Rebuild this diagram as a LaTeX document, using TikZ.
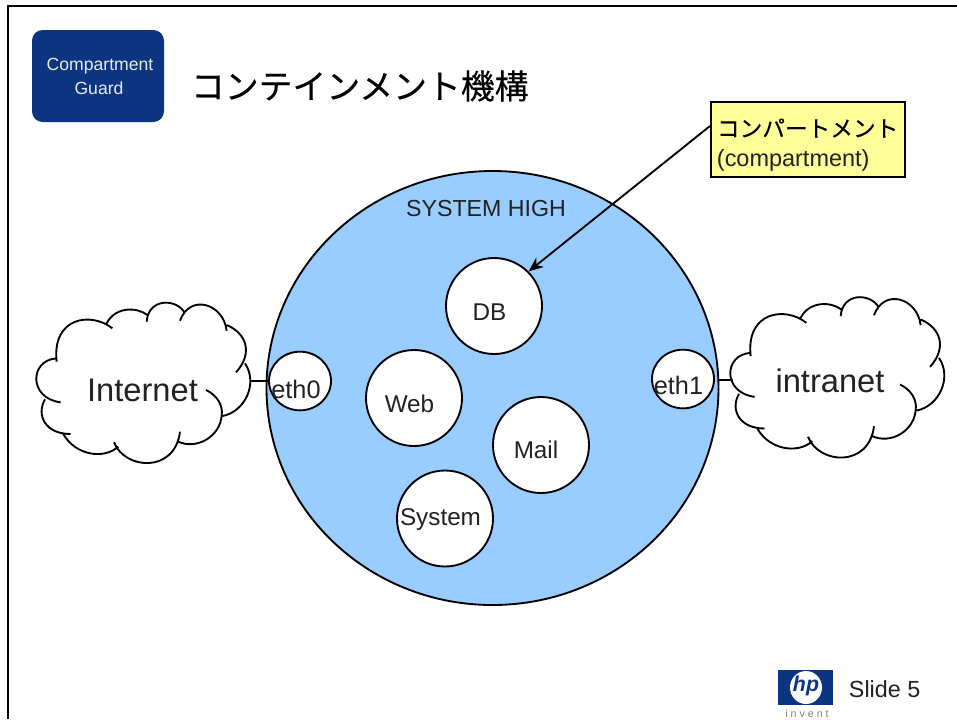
\documentclass[tikz,border=0pt]{standalone}
\usepackage{fontspec}
\setmainfont{Liberation Sans}
\newfontfamily\cjk[FakeBold=0.25]{Noto Sans CJK JP}
\definecolor{navy}{HTML}{0B3580}
\definecolor{sky}{HTML}{99CCFF}
\definecolor{note}{HTML}{FFFF99}
\definecolor{ink}{HTML}{222222}
\newcommand{\px}[1]{\fontsize{#1}{#1}\selectfont}
\newcommand{\cloudshape}{%
 \fill[white] plot[smooth cycle,tension=0.7] coordinates {(108,330)(170,240)(265,150)(385,120)(500,100)(610,100)(742,240)(750,340)(665,440)(590,525)(437,582)(290,552)(120,430)};
 \draw[line width=1.4pt]
  (170,265) .. controls (88,270) and (85,385) .. (182,397)
  (135,388) .. controls (108,435) and (135,492) .. (212,492)
  (190,492) .. controls (225,555) and (310,570) .. (355,530)
  (342,517) .. controls (375,600) and (525,610) .. (540,485)
  (535,515) .. controls (590,540) and (660,500) .. (665,437)
  (618,360) .. controls (650,375) and (670,405) .. (665,437)
  (668,438) .. controls (735,425) and (775,340) .. (735,280)
  (708,307) .. controls (760,250) and (740,190) .. (680,165)
  (680,182) .. controls (670,100) and (570,70) .. (540,152)
  (552,125) .. controls (525,85) and (445,85) .. (440,155)
  (442,135) .. controls (410,110) and (345,110) .. (320,160)
  (337,175) .. controls (275,125) and (155,140) .. (170,275);
}
\usetikzlibrary{shapes.geometric,arrows.meta}
\tikzset{
 x=0.75pt,y=-0.75pt,
 compart/.style={draw=black,fill=white,ellipse,inner sep=0pt},
 port/.style={compart,minimum width=46.5pt,minimum height=44pt},
 room/.style={compart,minimum width=72pt,minimum height=72pt},
 lab/.style={inner sep=0pt,font=\px{18.2},text=ink},
 cloudtext/.style={font=\px{24.5},inner sep=0pt,text=ink},
}
\begin{document}
\begin{tikzpicture}[line width=1.4pt]
\useasboundingbox (0,0) rectangle (957,719);
\fill[white] (0,0) rectangle (957,719);
\coordinate (frameA) at (8,719);
\coordinate (frameB) at (8,6);
\coordinate (frameC) at (957,6);
\draw (frameA) -- (frameB) -- (frameC);
\node (badge) [fill=navy,rounded corners=8pt,minimum width=99pt,minimum height=69pt,inner sep=0pt] at (98,76) {};
\node (badgeA) [inner sep=0pt,text=white!90!navy,font=\px{13.2}] at (100,66) {Compartment};
\node (badgeB) [inner sep=0pt,text=white!90!navy,font=\px{13.2}] at (99,88) {Guard};
\node (title) [inner sep=0pt,font=\cjk\px{25.4},anchor=west] at (190,86) {コンテインメント機構};
% big circle
\node (high) [ellipse,draw=black,fill=sky,inner sep=0pt,minimum width=339pt,minimum height=325.5pt] at (492.5,388) {};
\node (highlabel) [lab,font=\px{17.4}] at (486,209) {SYSTEM HIGH};
\node (db) [room] at (494,306) {};
\node (dblabel) [lab] at (489.5,312) {DB};
\node (web) [room] at (414,398) {};
\node (weblabel) [lab] at (409.5,404) {Web};
\node (mail) [room] at (541,445) {};
\node (maillabel) [lab] at (536,450) {Mail};
\node (system) [room] at (445,518.5) {};
\node (systemlabel) [lab] at (440.5,520) {System};
\node (eth0) [port] at (300,381) {};
\node (eth0label) [lab,font=\px{19}] at (296,389) {eth0};
\node (eth1) [port] at (683,379) {};
\node (eth1label) [lab,font=\px{19}] at (678.5,385) {eth1};
% clouds
\begin{scope}[x=0.25pt,y=-0.25pt,shift={(0,270*3)}]\cloudshape\end{scope}
\begin{scope}[x=0.25pt,y=-0.25pt,shift={(694*3,264.5*3)}]\cloudshape\end{scope}
\node (internet) [cloudtext] at (142.5,390) {Internet};
\node (intranet) [cloudtext] at (830,381) {intranet};
\coordinate (inetport) at (250,381);
\coordinate (intraport) at (733,380);
\draw (inetport) -- (eth0.west);
\draw (high.east |- intraport) -- (intraport);
% callout
\node (note) [draw=black,fill=note,minimum width=145.5pt,minimum height=56pt,inner sep=0pt] at (808,139.5) {};
\node (noteA) [inner sep=0pt,font=\cjk\px{17},anchor=west] at (716,128) {コンパートメント};
\node (noteB) [lab,font=\px{17.6},anchor=west] at (716,160) {(compartment)};
\coordinate (noteport) at (710,126);
\draw[-{Stealth[length=11pt,width=9pt]}] (noteport) -- (db.north east);
% logo
\node (logo) [fill=navy,minimum width=41.5pt,minimum height=26pt,inner sep=0pt] at (805.5,687.5) {};
\fill[white] (806,687.5) ellipse [x radius=16,y radius=16.5];
\node (hp) [inner sep=0pt,text=navy,font=\px{16}\bfseries\itshape] at (806,686) {hp};
\node (invent) [inner sep=0pt,text=gray,font=\px{8}] at (807,714) {i n v e n t};
\node (slide) [lab,font=\px{17.5},anchor=west] at (848,689) {Slide 5};
\end{tikzpicture}
\end{document}
